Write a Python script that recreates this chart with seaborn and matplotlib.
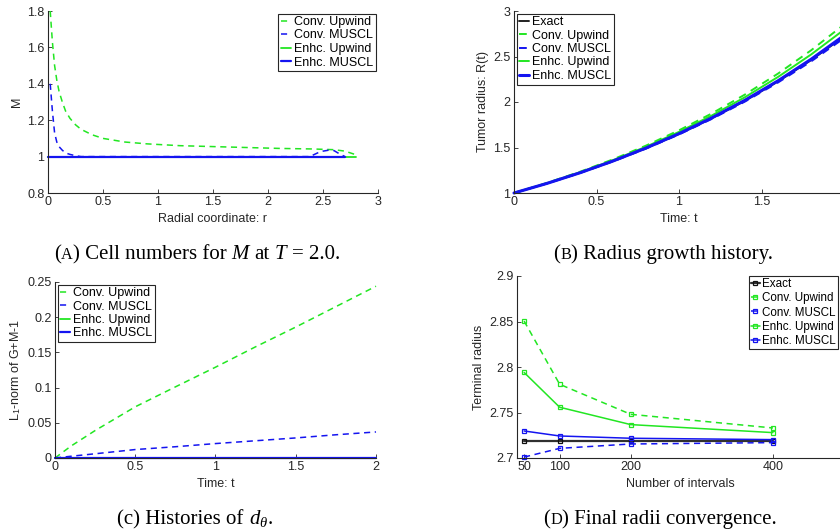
import numpy as np
import pandas as pd
import matplotlib
matplotlib.use("Agg")
import matplotlib.pyplot as plt
from matplotlib.ticker import FuncFormatter
import seaborn as sns

# ---------------- data ----------------
# (A) M vs radial coordinate at T=2.0
r_conv_up = [0.02, 0.04, 0.06, 0.08, 0.10, 0.13, 0.16, 0.20, 0.25, 0.30, 0.40, 0.50,
             0.70, 0.90, 1.2, 1.5, 1.8, 2.1, 2.4, 2.6, 2.7, 2.75, 2.8]
M_conv_up = [1.80, 1.63, 1.50, 1.42, 1.36, 1.30, 1.25, 1.21, 1.175, 1.15, 1.12, 1.10,
             1.08, 1.07, 1.06, 1.055, 1.05, 1.045, 1.042, 1.038, 1.03, 1.02, 1.01]
r_conv_mu = [0.02, 0.04, 0.06, 0.08, 0.10, 0.13, 0.16, 0.20, 0.25, 0.30, 1.0, 2.0,
             2.38, 2.45, 2.5, 2.55, 2.6, 2.65, 2.7]
M_conv_mu = [1.40, 1.25, 1.13, 1.08, 1.055, 1.035, 1.02, 1.012, 1.005, 1.0, 1.0, 1.0,
             1.0, 1.02, 1.03, 1.035, 1.033, 1.015, 1.0]
r_enh_up = [0.0, 2.8]
M_enh_up = [1.0, 1.0]
r_enh_mu = [0.0, 2.7]
M_enh_mu = [1.0, 1.0]

# (B) radius growth history
t_hist = [0.0, 0.2, 0.4, 0.6, 0.8, 1.0, 1.2, 1.4, 1.6, 1.8, 2.0]
R_exact = [1.0, 1.1052, 1.2214, 1.3499, 1.4918, 1.6487, 1.8221, 2.0138, 2.2255, 2.4596, 2.7183]
R_conv_up = [1.0, 1.1106, 1.2333, 1.3696, 1.5208, 1.6888, 1.8752, 2.0823, 2.3120, 2.5672, 2.8505]
R_conv_mu = [1.0, 1.1045, 1.2198, 1.3473, 1.4880, 1.6435, 1.8151, 2.0048, 2.2142, 2.4455, 2.7010]
R_enh_up = [1.0, 1.1083, 1.2282, 1.3612, 1.5084, 1.6717, 1.8526, 2.0531, 2.2751, 2.5213, 2.7940]
R_enh_mu = [1.0, 1.1057, 1.2224, 1.3516, 1.4943, 1.6521, 1.8267, 2.0197, 2.2329, 2.4689, 2.7297]

# (C) L1 norm of G+M-1
t_c = [0.0, 0.1, 0.25, 0.5, 0.75, 1.0, 1.25, 1.5, 1.75, 2.0]
L1_conv_up = [0.0, 0.017, 0.039, 0.0727, 0.101, 0.129, 0.158, 0.186, 0.215, 0.244]
L1_conv_mu = [0.0, 0.0025, 0.006, 0.012, 0.016, 0.0205, 0.0245, 0.0285, 0.033, 0.037]
L1_enh_up = [0.0, 0.0, 0.0, 0.0, 0.0, 0.0, 0.0, 0.0, 0.0, 0.0]
L1_enh_mu = [0.0, 0.0, 0.0, 0.0, 0.0, 0.0, 0.0, 0.0, 0.0, 0.0]

# (D) terminal radius convergence
n_int = [50, 100, 200, 400]
T_exact = [2.7183, 2.7183, 2.7183, 2.7183]
T_conv_up = [2.8505, 2.781, 2.748, 2.733]
T_conv_mu = [2.701, 2.7106, 2.7154, 2.7169]
T_enh_up = [2.794, 2.7558, 2.7367, 2.7279]
T_enh_mu = [2.7297, 2.7242, 2.7217, 2.7202]

labels = ["Conv. Upwind", "Conv. MUSCL", "Enhc. Upwind", "Enhc. MUSCL"]

# ---------------- style ----------------
sns.set_style("ticks")
GRAY = "#262626"
plt.rcParams.update({
    "font.family": ["Liberation Sans", "DejaVu Sans"],
    "font.size": 9,
    "mathtext.fontset": "custom",
    "mathtext.it": "Liberation Serif:italic",
    "mathtext.rm": "Liberation Serif",
    "mathtext.sf": "Liberation Sans",
    "axes.edgecolor": GRAY,
    "axes.labelcolor": GRAY,
    "xtick.color": GRAY,
    "ytick.color": GRAY,
    "text.color": GRAY,
    "xtick.direction": "in",
    "ytick.direction": "in",
    "axes.linewidth": 0.8,
})

GREEN = "#22e622"
BLUE = "#1414f0"
DASH = (4, 3)

fig = plt.figure(figsize=(8.4, 5.31), dpi=100)
W, H = 840, 531


def add_ax(l, t, r, b):
    return fig.add_axes([l / W, 1 - b / H, (r - l) / W, (b - t) / H])


def style(ax, xlim, ylim, xticks, yticks, xlabel, ylabel):
    ax.set_xlim(*xlim)
    ax.set_ylim(*ylim)
    ax.set_xticks(xticks)
    ax.set_yticks(yticks)
    fmt = FuncFormatter(lambda v, p: "%g" % round(v, 6))
    ax.xaxis.set_major_formatter(fmt)
    ax.yaxis.set_major_formatter(fmt)
    ax.tick_params(length=3, width=0.6, labelsize=9, pad=2.5)
    ax.set_xlabel(xlabel, fontsize=9, labelpad=3)
    ax.set_ylabel(ylabel, fontsize=9, labelpad=3)
    sns.despine(ax=ax)
    for ln in ax.lines:
        ln.set_clip_on(False)


def legend(ax, loc, handlelength=0.8):
    lg = ax.legend(loc=loc, frameon=True, fancybox=False, framealpha=1,
                   edgecolor=GRAY, fontsize=9, handlelength=handlelength,
                   handletextpad=0.25, labelspacing=0.12, borderpad=0.2,
                   borderaxespad=0.2)
    lg.get_frame().set_linewidth(0.8)
    for txt in lg.get_texts():
        txt.set_color("black")
    return lg


# ---------------- (A) ----------------
axA = add_ax(48, 11, 378, 193)
sns.lineplot(x=r_conv_up, y=M_conv_up, ax=axA, color=GREEN, lw=1.1,
             linestyle=(0, DASH), label=labels[0], sort=False)
sns.lineplot(x=r_conv_mu, y=M_conv_mu, ax=axA, color=BLUE, lw=1.1,
             linestyle=(0, DASH), label=labels[1], sort=False)
sns.lineplot(x=r_enh_up, y=M_enh_up, ax=axA, color=GREEN, lw=1.3, label=labels[2], sort=False)
sns.lineplot(x=r_enh_mu, y=M_enh_mu, ax=axA, color=BLUE, lw=1.6, label=labels[3], sort=False)
style(axA, (0, 3), (0.8, 1.8), [0, 0.5, 1, 1.5, 2, 2.5, 3],
      [0.8, 1.0, 1.2, 1.4, 1.6, 1.8], "Radial coordinate: r", "M")
legend(axA, "upper right")

# ---------------- (B) ----------------
axB = add_ax(514, 11, 844, 193)
sns.lineplot(x=t_hist, y=R_exact, ax=axB, color="#202020", lw=1.4, label="Exact", sort=False)
sns.lineplot(x=t_hist, y=R_conv_up, ax=axB, color=GREEN, lw=1.4,
             linestyle=(0, DASH), label=labels[0], sort=False)
sns.lineplot(x=t_hist, y=R_conv_mu, ax=axB, color=BLUE, lw=1.4,
             linestyle=(0, DASH), label=labels[1], sort=False)
sns.lineplot(x=t_hist, y=R_enh_up, ax=axB, color=GREEN, lw=1.4, label=labels[2], sort=False)
sns.lineplot(x=t_hist, y=R_enh_mu, ax=axB, color=BLUE, lw=2.2, label=labels[3], sort=False)
style(axB, (0, 2), (1, 3), [0, 0.5, 1, 1.5], [1, 1.5, 2, 2.5, 3],
      "Time: t", "Tumor radius: R(t)")
legend(axB, "upper left")

# ---------------- (C) ----------------
axC = add_ax(55, 282, 376, 458)
sns.lineplot(x=t_c, y=L1_conv_up, ax=axC, color=GREEN, lw=1.1,
             linestyle=(0, DASH), label=labels[0], sort=False)
sns.lineplot(x=t_c, y=L1_conv_mu, ax=axC, color=BLUE, lw=1.1,
             linestyle=(0, DASH), label=labels[1], sort=False)
sns.lineplot(x=t_c, y=L1_enh_up, ax=axC, color=GREEN, lw=1.3, label=labels[2], sort=False)
sns.lineplot(x=t_c, y=L1_enh_mu, ax=axC, color=BLUE, lw=1.6, label=labels[3], sort=False)
style(axC, (0, 2), (0, 0.25), [0, 0.5, 1, 1.5, 2], [0, 0.05, 0.1, 0.15, 0.2, 0.25],
      "Time: t", r"L$_\mathsf{1}$-norm of G+M-1")
legend(axC, "upper left")

# ---------------- (D) ----------------
axD = add_ax(517, 276, 844, 458)


def mk(c):
    return dict(marker="s", markersize=3.3, markerfacecolor="none",
                markeredgecolor=c, markeredgewidth=0.9)


sns.lineplot(x=n_int, y=T_exact, ax=axD, color="#303030", lw=1.6, label="Exact",
             sort=False, **mk("#101010"))
sns.lineplot(x=n_int, y=T_conv_up, ax=axD, color=GREEN, lw=1.1,
             linestyle=(0, DASH), label=labels[0], sort=False, **mk(GREEN))
sns.lineplot(x=n_int, y=T_conv_mu, ax=axD, color=BLUE, lw=1.1,
             linestyle=(0, DASH), label=labels[1], sort=False, **mk(BLUE))
sns.lineplot(x=n_int, y=T_enh_up, ax=axD, color=GREEN, lw=1.1, label=labels[2],
             sort=False, **mk(GREEN))
sns.lineplot(x=n_int, y=T_enh_mu, ax=axD, color=BLUE, lw=1.1, label=labels[3],
             sort=False, **mk(BLUE))
style(axD, (40, 500), (2.7, 2.9), [50, 100, 200, 400], [2.7, 2.75, 2.8, 2.85, 2.9],
      "Number of intervals", "Terminal radius")
lgD = axD.legend(loc="upper left", bbox_to_anchor=(749 / W, 1 - 276 / H),
                 bbox_transform=fig.transFigure, frameon=True, fancybox=False,
                 framealpha=1, edgecolor=GRAY, fontsize=8.4, handlelength=0.7,
                 handletextpad=0.2, labelspacing=0.18, borderpad=0.2,
                 borderaxespad=0.0)
lgD.get_frame().set_linewidth(0.8)
for txt in lgD.get_texts():
    txt.set_color("black")

# ---------------- captions ----------------
SERIF = ["Liberation Serif", "DejaVu Serif"]
CAP = 15
renderer = fig.canvas.get_renderer()


def measure(s, **kw):
    t = fig.text(0, 0, s, **kw)
    w = t.get_window_extent(renderer).width
    t.remove()
    return w


def caption(xc_px, base_px, segs):
    base = dict(family=SERIF, size=CAP, color="black")
    sp = measure("a a", **base) - measure("aa", **base)
    x = 0.0
    placed = []
    for s, extra in segs:
        kw = dict(base)
        kw.update(extra)
        lead = len(s) - len(s.lstrip(" "))
        trail = len(s) - len(s.rstrip(" "))
        core = s.strip(" ")
        x += lead * sp
        t = fig.text(0, 1 - base_px / H, core, ha="left", va="baseline", **kw)
        w = t.get_window_extent(renderer).width
        placed.append((t, x))
        x += w + trail * sp
    x0 = xc_px - x / 2
    for t, dx in placed:
        t.set_x((x0 + dx) / W)


SC = dict(size=CAP * 0.78)
IT = dict(style="italic")
caption(197, 259, [("(", {}), ("A", SC), (") Cell numbers for ", {}), ("M", IT),
                   (" at ", {}), ("T", IT), (" = 2.0.", {})])
caption(663, 259, [("(", {}), ("B", SC), (") Radius growth history.", {})])
caption(195, 524, [("(c) Histories of ", {}), (r"$d_\theta$", {}), (".", {})])
caption(660, 524, [("(", {}), ("D", SC), (") Final radii convergence.", {})])

fig.savefig("out.png", dpi=100)
